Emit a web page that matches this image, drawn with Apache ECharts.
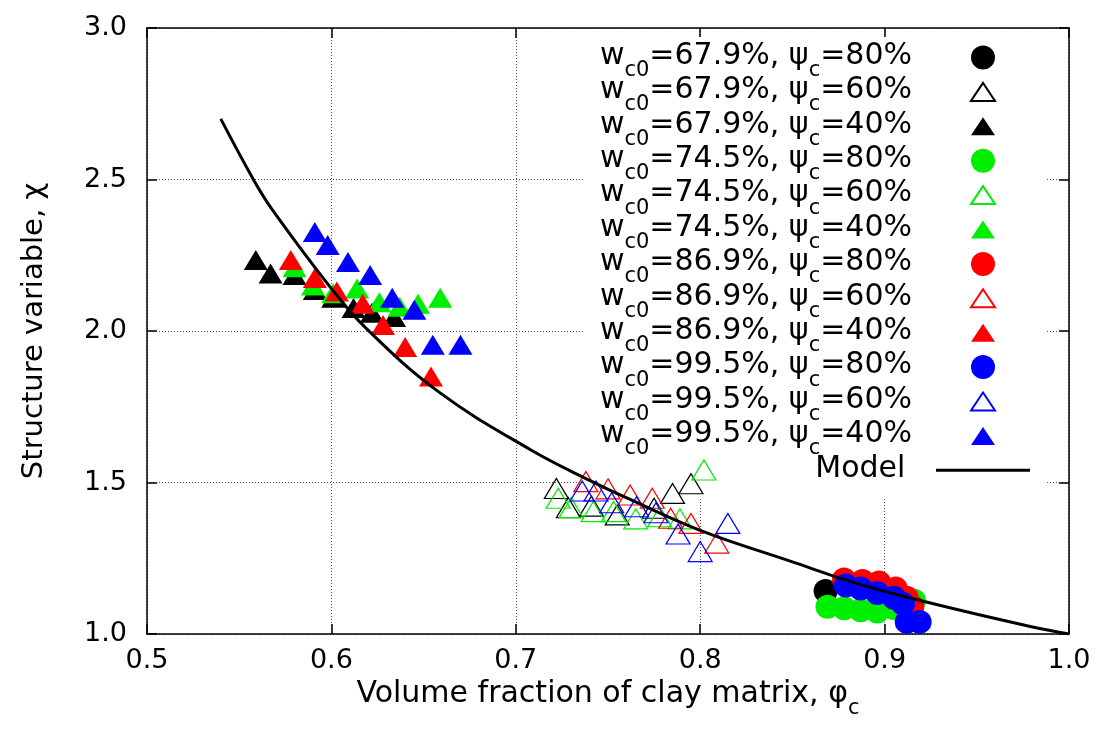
<!DOCTYPE html>
<html>
<head>
<meta charset="utf-8">
<script src="https://cdn.jsdelivr.net/npm/echarts@6/dist/echarts.min.js"></script>
<style>
html,body{margin:0;padding:0;background:#fff;}
#chart{width:1102px;height:744px;}
</style>
</head>
<body>
<div id="chart"></div>
<script>
// ---- data ----
const xTicks = [0.5, 0.6, 0.7, 0.8, 0.9, 1.0];
const yTicks = [1.0, 1.5, 2.0, 2.5, 3.0];

// w_c0 = 67.9 %
const black80 = [[0.868, 1.142], [0.911, 1.116]];
const black60 = [[0.722, 1.480], [0.7285, 1.417], [0.741, 1.422], [0.755, 1.393], [0.775, 1.415], [0.785, 1.464], [0.795, 1.496]];
const black40 = [[0.559, 2.234], [0.567, 2.190], [0.580, 2.185], [0.591, 2.135], [0.601, 2.110], [0.612, 2.076], [0.622, 2.060], [0.634, 2.046]];
// w_c0 = 74.5 %
const green80 = [[0.869, 1.090], [0.878, 1.085], [0.887, 1.078], [0.896, 1.074], [0.905, 1.086], [0.916, 1.110]];
const green60 = [[0.723, 1.448], [0.730, 1.417], [0.742, 1.404], [0.753, 1.404], [0.765, 1.380], [0.778, 1.387], [0.789, 1.380], [0.802, 1.541]];
const green40 = [[0.580, 2.210], [0.590, 2.150], [0.601, 2.125], [0.614, 2.140], [0.626, 2.095], [0.637, 2.080], [0.647, 2.090], [0.659, 2.110]];
// w_c0 = 86.9 %
const red80 = [[0.878, 1.180], [0.888, 1.175], [0.897, 1.170], [0.906, 1.150], [0.912, 1.120], [0.915, 1.090]];
const red60 = [[0.738, 1.503], [0.750, 1.479], [0.762, 1.459], [0.774, 1.448], [0.784, 1.382], [0.795, 1.365], [0.809, 1.300]];
const red40 = [[0.578, 2.234], [0.591, 2.175], [0.603, 2.130], [0.617, 2.090], [0.628, 2.020], [0.640, 1.947], [0.654, 1.850]];
// w_c0 = 99.5 %
const blue80 = [[0.879, 1.160], [0.887, 1.150], [0.896, 1.135], [0.905, 1.120], [0.910, 1.100], [0.912, 1.040], [0.919, 1.040]];
const blue60 = [[0.736, 1.472], [0.7435, 1.472], [0.752, 1.433], [0.7655, 1.420], [0.776, 1.400], [0.788, 1.330], [0.800, 1.272], [0.815, 1.365]];
const blue40 = [[0.591, 2.327], [0.598, 2.284], [0.609, 2.228], [0.621, 2.185], [0.633, 2.110], [0.645, 2.070], [0.655, 1.955], [0.670, 1.955]];

// model curve
const modelX = [0.540, 0.558, 0.568, 0.600, 0.619, 0.658, 0.708, 0.740, 0.762, 0.800, 0.850, 0.887, 0.927, 0.979, 1.000];
const modelY = [2.700, 2.497, 2.400, 2.140, 2.008, 1.800, 1.608, 1.507, 1.444, 1.342, 1.238, 1.163, 1.099, 1.025, 1.000];

const groupWc0 = ['67.9%', '74.5%', '86.9%', '99.5%'];
const groupColors = ['#000000', '#00ee00', '#ff0000', '#0000ff'];
const psiLabels = ['80%', '60%', '40%'];
const groupData = [
  [black80, black60, black40],
  [green80, green60, green40],
  [red80, red60, red40],
  [blue80, blue60, blue40]
];

// ---- build series ----
const FONT = 'DejaVu Sans';
const triPath = 'path://M0,0M24,24M0,21L12,3L24,21Z';
const linePath = 'path://M0,0L94,0L94,3L0,3Z';
const series = [];
const legendData = [];
groupWc0.forEach((w, gi) => {
  psiLabels.forEach((p, pi) => {
    const name = 'w_c0=' + w + ', ψ_c=' + p;
    const col = groupColors[gi];
    const s = {
      name: name,
      type: 'scatter',
      data: groupData[gi][pi],
      animation: false,
      z: 3
    };
    if (pi === 0) {
      s.symbol = 'circle';
      s.symbolSize = 24;
      s.itemStyle = { color: col, opacity: 1 };
      legendData.push({ name: name, icon: 'circle' });
    } else if (pi === 1) {
      s.symbol = 'triangle';
      s.symbolSize = [24, 20];
      s.itemStyle = { color: 'rgba(255,255,255,0)', borderColor: col, borderWidth: 1.2, opacity: 1 };
      legendData.push({ name: name, icon: triPath });
    } else {
      s.symbol = 'triangle';
      s.symbolSize = [24, 20];
      s.itemStyle = { color: col, opacity: 1 };
      legendData.push({ name: name, icon: triPath });
    }
    series.push(s);
  });
});
series.push({
  name: 'Model',
  type: 'line',
  data: modelX.map((x, i) => [x, modelY[i]]),
  symbol: 'none',
  smooth: 0.4,
  lineStyle: { color: '#000', width: 3 },
  itemStyle: { color: '#000' },
  animation: false,
  z: 5
});
legendData.push({ name: 'Model', icon: linePath });

const rich = {
  m: { fontSize: 30, fontFamily: FONT, lineHeight: 33, verticalAlign: 'top', color: '#000' },
  s: { fontSize: 21, fontFamily: FONT, lineHeight: 20, padding: [19, 0, 0, 0], verticalAlign: 'top', color: '#000' }
};

const chart = echarts.init(document.getElementById('chart'), null, { renderer: 'canvas' });
const axisLineStyle = { color: '#000', width: 1.5 };
const option = {
  backgroundColor: '#fff',
  animation: false,
  grid: { left: 147, right: 33, top: 28, bottom: 110, containLabel: false },
  legend: {
    data: legendData,
    orient: 'vertical',
    align: 'right',
    right: 57,
    top: 37,
    z: 1,
    padding: [4, 15, 4, 17],
    itemWidth: 94,
    itemHeight: 24,
    itemGap: -5.6,
    backgroundColor: '#fff',
    selectedMode: false,
    textStyle: { rich: rich, padding: [0, 19, 0, 0] },
    formatter: function (name) {
      if (name === 'Model') return '{m|Model}{s| }';
      const m = name.match(/w_c0=([\d.]+%), ψ_c=([\d.]+%)/);
      return '{m|w}{s|c0}{m|=' + m[1] + ', ψ}{s|c}{m|=' + m[2] + '}';
    }
  },
  xAxis: [{
    type: 'value', position: 'bottom', min: xTicks[0], max: xTicks[xTicks.length - 1], interval: 0.1,
    axisLine: { show: true, onZero: false, lineStyle: axisLineStyle },
    axisTick: { show: true, inside: true, length: 10, lineStyle: axisLineStyle },
    splitLine: { show: true, lineStyle: { color: '#555', width: 1, type: [1, 2] } },
    axisLabel: { fontSize: 27, fontFamily: FONT, color: '#000', margin: 13, formatter: v => v.toFixed(1) },
    name: '{m|Volume fraction of clay matrix, φ}{s|c}',
    nameLocation: 'middle', nameGap: 39,
    nameTextStyle: { rich: rich }
  }, {
    type: 'value', position: 'top', min: xTicks[0], max: xTicks[xTicks.length - 1], interval: 0.1,
    axisLine: { show: true, onZero: false, lineStyle: axisLineStyle },
    axisTick: { show: true, inside: true, length: 10, lineStyle: axisLineStyle },
    splitLine: { show: false }, axisLabel: { show: false }
  }],
  yAxis: [{
    type: 'value', position: 'left', min: yTicks[0], max: yTicks[yTicks.length - 1], interval: 0.5,
    axisLine: { show: true, onZero: false, lineStyle: axisLineStyle },
    axisTick: { show: true, inside: true, length: 10, lineStyle: axisLineStyle },
    splitLine: { show: true, lineStyle: { color: '#555', width: 1, type: [1, 2] } },
    axisLabel: { fontSize: 27, fontFamily: FONT, color: '#000', margin: 20, formatter: v => v.toFixed(1) },
    name: 'Structure variable, χ',
    nameLocation: 'middle', nameGap: 98,
    nameTextStyle: { fontSize: 29, fontFamily: FONT, color: '#000' }
  }, {
    type: 'value', position: 'right', min: yTicks[0], max: yTicks[yTicks.length - 1], interval: 0.5,
    axisLine: { show: true, onZero: false, lineStyle: axisLineStyle },
    axisTick: { show: true, inside: true, length: 10, lineStyle: axisLineStyle },
    splitLine: { show: false }, axisLabel: { show: false }
  }],
  series: series
};
chart.setOption(option);
</script>
</body>
</html>
